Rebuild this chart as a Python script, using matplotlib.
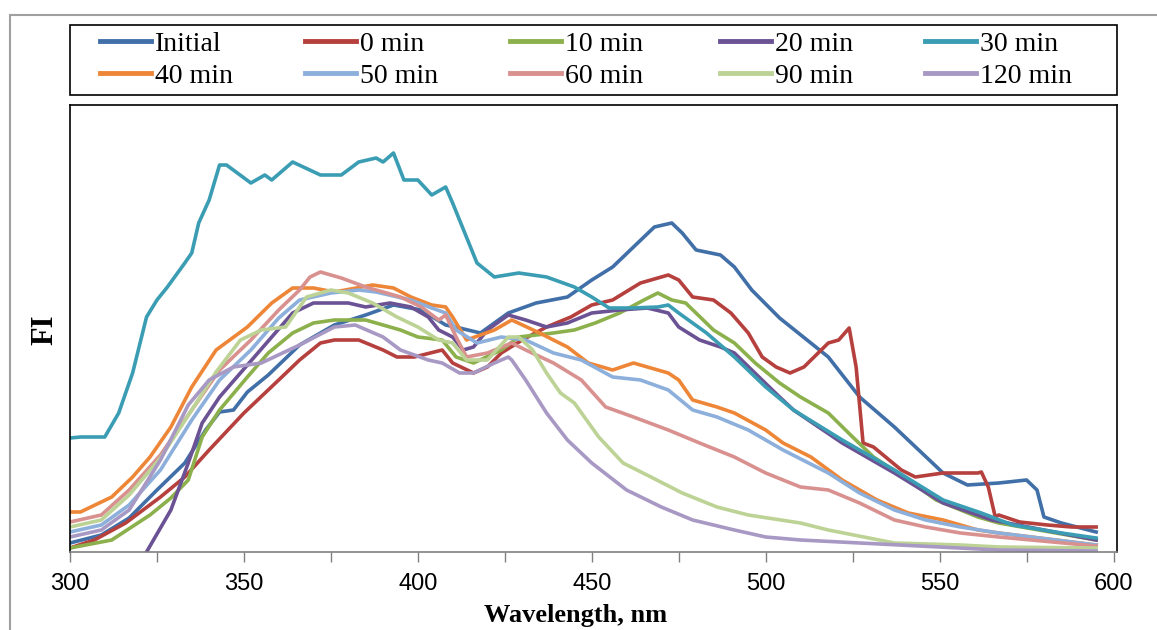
import numpy as np
import matplotlib
matplotlib.use('Agg')
import matplotlib.pyplot as plt
from matplotlib.patches import Rectangle

# wavelength (nm) / FI (arbitrary units)
wl_initial = [300, 309, 317, 325, 333, 339, 343, 347, 351, 357, 366, 376, 385, 393, 401, 408, 412, 418,
              426, 434, 443, 450, 456, 462, 468, 473, 476, 480, 487, 491, 496, 504, 518, 527, 537, 551,
              558, 567, 575, 578, 580, 585, 595]
fi_initial = [9, 17, 34, 62, 89, 122, 140, 142, 160, 177, 207, 227, 237, 247, 242, 227, 224, 219,
              239, 249, 255, 272, 285, 305, 325, 329, 319, 302, 297, 285, 262, 234, 195, 155, 125, 79,
              67, 69, 72, 62, 35, 29, 20]

wl_0 = [300, 307, 316, 326, 333, 340, 350, 360, 366, 372, 376, 383, 390, 394, 399, 407, 410, 416, 420,
        424, 430, 437, 444, 450, 456, 464, 472, 475, 479, 485, 490, 495, 499, 503, 507, 511, 518, 521,
        524, 526, 528, 531, 539, 543, 551, 561, 562, 564, 566, 567, 573, 581, 588, 595]
fi_0 = [4, 12, 29, 55, 75, 102, 139, 172, 192, 209, 212, 212, 202, 195, 195, 202, 189, 179, 185,
        199, 212, 225, 235, 247, 252, 269, 277, 272, 255, 252, 239, 219, 195, 185, 179, 185, 209, 212,
        224, 185, 109, 105, 82, 75, 79, 79, 80, 65, 35, 37, 30, 27, 25, 25]

wl_10 = [300, 312, 323, 329, 334, 338, 343, 351, 357, 364, 370, 376, 385, 390, 395, 400, 407, 411, 416,
         424, 429, 439, 445, 451, 458, 465, 469, 473, 477, 485, 491, 497, 504, 510, 518, 525, 531, 541,
         549, 561, 567, 595]
fi_10 = [4, 12, 37, 54, 72, 115, 142, 175, 199, 219, 229, 232, 232, 227, 222, 215, 212, 195, 189,
         202, 215, 219, 222, 229, 239, 252, 259, 252, 249, 222, 209, 189, 169, 155, 139, 115, 95, 72,
         52, 35, 29, 12]

wl_20 = [322, 329, 334, 338, 343, 349, 353, 358, 364, 370, 375, 380, 385, 392, 398, 403, 406, 410, 413,
         416, 420, 426, 431, 437, 443, 450, 458, 466, 472, 475, 481, 487, 491, 496, 504, 508, 522, 537,
         551, 565, 595]
fi_20 = [0, 42, 89, 129, 155, 179, 195, 215, 239, 249, 249, 249, 245, 249, 245, 235, 222, 215, 202,
         205, 222, 237, 232, 225, 229, 239, 242, 244, 239, 225, 212, 205, 199, 182, 155, 142, 109, 79,
         49, 32, 12]

wl_30 = [300, 303, 310, 314, 318, 322, 325, 328, 333, 335, 337, 340, 343, 345, 352, 356, 358, 364, 372,
         378, 383, 388, 390, 393, 396, 400, 404, 408, 410, 417, 422, 429, 437, 445, 450, 455, 462, 469,
         472, 475, 483, 491, 500, 508, 522, 537, 551, 562, 571, 585, 595]
fi_30 = [114, 115, 115, 139, 179, 235, 252, 265, 289, 299, 329, 352, 387, 387, 369, 377, 372, 390, 377,
         377, 390, 394, 390, 399, 372, 372, 357, 365, 349, 289, 275, 279, 275, 265, 255, 244, 244, 245,
         247, 239, 219, 195, 165, 142, 112, 82, 52, 39, 27, 19, 14]

wl_40 = [300, 303, 312, 318, 323, 329, 335, 342, 351, 358, 364, 370, 376, 387, 393, 398, 404, 408, 410,
         414, 422, 427, 435, 443, 449, 456, 462, 472, 475, 479, 486, 491, 500, 505, 513, 522, 532, 541,
         551, 561, 567, 595]
fi_40 = [40, 40, 55, 75, 95, 125, 165, 202, 225, 249, 264, 264, 260, 267, 264, 255, 247, 245, 235,
         212, 222, 232, 219, 205, 189, 182, 189, 179, 172, 152, 145, 139, 122, 109, 95, 72, 52, 39,
         32, 22, 19, 7]

wl_50 = [300, 309, 317, 326, 335, 343, 352, 360, 366, 375, 383, 388, 398, 404, 408, 411, 417, 424, 431,
         439, 447, 456, 464, 472, 479, 486, 495, 505, 518, 527, 537, 546, 556, 567, 595]
fi_50 = [20, 27, 47, 82, 132, 172, 202, 234, 252, 259, 262, 260, 252, 244, 239, 222, 209, 215, 212,
         199, 192, 175, 172, 162, 142, 135, 122, 102, 79, 59, 42, 32, 25, 19, 7]

wl_60 = [300, 309, 317, 326, 335, 343, 352, 360, 366, 369, 372, 378, 385, 395, 401, 406, 408, 411, 414,
         420, 427, 431, 439, 447, 454, 462, 472, 481, 491, 500, 510, 518, 527, 537, 546, 556, 567, 595]
fi_60 = [30, 37, 62, 97, 142, 182, 212, 242, 262, 275, 280, 274, 265, 255, 245, 232, 237, 215, 195,
         199, 209, 202, 189, 172, 145, 135, 122, 109, 95, 79, 65, 62, 49, 32, 25, 19, 15, 6]

wl_90 = [300, 309, 317, 326, 335, 342, 349, 355, 362, 368, 375, 380, 387, 394, 400, 406, 410, 414, 420,
         426, 429, 433, 437, 441, 445, 452, 459, 467, 476, 486, 495, 510, 518, 537, 556, 567, 595]
fi_90 = [25, 32, 57, 94, 142, 180, 212, 222, 225, 255, 262, 259, 249, 235, 225, 212, 209, 192, 192,
         215, 215, 202, 179, 159, 149, 115, 89, 75, 59, 45, 37, 29, 22, 9, 7, 5, 4]

wl_120 = [300, 309, 317, 326, 334, 340, 347, 355, 366, 376, 382, 390, 395, 403, 407, 412, 416, 422, 426,
          427, 431, 437, 443, 450, 460, 470, 479, 491, 500, 510, 567, 595]
fi_120 = [15, 22, 42, 92, 147, 172, 185, 189, 207, 225, 227, 215, 202, 192, 189, 179, 179, 189, 195,
          192, 172, 139, 112, 89, 62, 45, 32, 22, 15, 12, 2, 1]

labels = ['Initial', '0 min', '10 min', '20 min', '30 min',
          '40 min', '50 min', '60 min', '90 min', '120 min']
colors = ['#416FA8', '#B5403D', '#8CB04B', '#6B5294', '#3B9DB3',
          '#EE8638', '#8CAFDB', '#D8918F', '#BDD396', '#A898C4']
series = [(wl_initial, fi_initial), (wl_0, fi_0), (wl_10, fi_10), (wl_20, fi_20), (wl_30, fi_30),
          (wl_40, fi_40), (wl_50, fi_50), (wl_60, fi_60), (wl_90, fi_90), (wl_120, fi_120)]

W, H = 1157, 630
fig = plt.figure(figsize=(W / 100, H / 100), dpi=100)
ax = fig.add_axes([70 / W, 1 - 552 / H, 1047 / W, 447 / H])

lines = []
for (x, y), lab, c in zip(series, labels, colors):
    ln, = ax.plot(x, y, color=c, lw=2.6, label=lab, solid_joinstyle='round')
    lines.append(ln)

ax.set_xlim(300, 601)
ax.set_ylim(0, 447)
ax.set_yticks([])
ticks = np.arange(300, 601, 25)
ax.set_xticks(ticks)
ax.set_xticklabels([str(t) if t % 50 == 0 else '' for t in ticks],
                   family='Liberation Sans', fontsize=17)
ax.tick_params(axis='x', direction='out', length=7, width=1, color='#808080', pad=8)

for s in ['left', 'top', 'right']:
    ax.spines[s].set_color('black')
    ax.spines[s].set_linewidth(1.2)
ax.spines['bottom'].set_color('#808080')
ax.spines['bottom'].set_linewidth(1.2)

fig.text(576 / W, 1 - 622 / H, 'Wavelength, nm', family='Liberation Serif', fontweight='bold',
         fontsize=19, ha='center', va='baseline')
fig.text(45 / W, 1 - 330 / H, 'FI', family='Liberation Serif', fontweight='bold',
         fontsize=22, ha='center', va='center', rotation=90)

# legend: five columns of two rows, frame drawn separately
col_x = [100, 305, 510, 720, 925]
for i, cx in enumerate(col_x):
    leg = fig.legend(handles=[lines[i], lines[i + 5]], labels=[labels[i], labels[i + 5]],
                     loc='center left', bbox_to_anchor=(cx / W, 1 - 60 / H),
                     prop={'family': 'Liberation Serif', 'size': 20},
                     handlelength=1.85, handletextpad=0.12, labelspacing=0.25,
                     borderpad=0, borderaxespad=0, frameon=False)
    for h in leg.legend_handles:
        h.set_linewidth(3.5)

fig.patches.append(Rectangle((70 / W, 1 - 95 / H), 1047 / W, 70 / H, transform=fig.transFigure,
                             fill=False, edgecolor='black', linewidth=1.2))

# outer chart border
fig.patches.append(Rectangle((10 / W, -0.05), 1.2, 1.05 - 15 / H, transform=fig.transFigure,
                             fill=False, edgecolor='#A0A0A0', linewidth=1.5))

fig.savefig('out.png', dpi=100)
